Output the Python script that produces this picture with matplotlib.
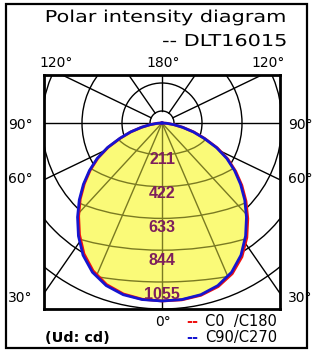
import numpy as np
import matplotlib
matplotlib.use("Agg")
import matplotlib.pyplot as plt
from matplotlib.patches import Polygon, Rectangle, Ellipse
from matplotlib import patheffects
from matplotlib.transforms import Affine2D

# gamma angles (deg from nadir) and luminous intensity (cd) per C-plane
gamma = [0, 5, 10, 15, 20, 25, 30, 35, 40, 45, 50, 55, 60, 65, 70, 75, 80, 85, 90]
c0 = [1181, 1178, 1161, 1124, 1064, 980, 879, 775, 677, 585, 498, 416, 331, 245, 176, 112, 63, 26, 0]
c180 = [1181, 1174, 1152, 1110, 1044, 957, 855, 753, 659, 569, 485, 405, 322, 238, 171, 109, 61, 26, 0]
c90 = [1181, 1176, 1157, 1117, 1054, 968, 866, 763, 667, 576, 491, 410, 326, 241, 173, 110, 62, 26, 0]
c270 = [1181, 1176, 1157, 1117, 1054, 968, 866, 763, 667, 576, 491, 410, 326, 241, 173, 110, 62, 26, 0]

ring_labels = [211, 422, 633, 844, 1055]
side_labels = ["90°", "60°", "30°"]
top_labels = ["120°", "180°", "120°"]
legend_labels = ["C0  /C180", "C90/C270"]
unit_label = "(Ud: cd)"
title = "Polar intensity diagram"
subtitle = "-- DLT16015"

W, H = 312, 350
SX = 0.193    # px per cd, horizontal (picture is wider than tall)
SY = 0.1507   # px per cd, vertical


def fx(x):
    return x / W


def fy(y):
    return 1 - y / H


class StretchX(patheffects.AbstractPathEffect):
    """Widen glyphs horizontally about display x0 (the title font is drawn wide)."""

    def __init__(self, sx, x0):
        super().__init__()
        self.sx = sx
        self.x0 = x0

    def draw_path(self, renderer, gc, tpath, affine, rgbFace=None):
        t = Affine2D(affine.get_matrix()).translate(-self.x0, 0).scale(self.sx, 1).translate(self.x0, 0)
        renderer.draw_path(gc, tpath, t, rgbFace)


def outline(angles, left, right):
    a = np.radians(angles)
    l = np.asarray(left, float)
    r = np.asarray(right, float)
    x = np.concatenate([(-l * np.sin(a))[::-1], (r * np.sin(a))[1:]])
    y = np.concatenate([(-l * np.cos(a))[::-1], (-r * np.cos(a))[1:]])
    return x, y


fig = plt.figure(figsize=(W / 100, H / 100), dpi=100)
fig.patches.append(Rectangle((fx(6), fy(348)), fx(301), 344 / H, transform=fig.transFigure,
                             fill=False, lw=1.6, ec='black'))

ax = fig.add_axes([fx(44), fy(309), fx(236), 234 / H])
ax.set_xlim(-118 / SX, 118 / SX)
ax.set_ylim(-186 / SY, 48 / SY)
ax.set_xticks([])
ax.set_yticks([])
for s in ax.spines.values():
    s.set_linewidth(2.0)
    s.set_zorder(10)

# fixed background grid: round circles and 30 deg rays (sizes in px)
bg_rings_px = [12, 40, 80, 120, 152, 186]
for rp in bg_rings_px:
    ax.add_patch(Ellipse((0, 0), 2 * rp / SX, 2 * rp / SY, fill=False, ec='black', lw=1.0, zorder=2))
for t in np.radians(np.arange(0, 360, 30)):
    dx, dy = 1.2 * np.sin(t), -np.cos(t)
    n = np.hypot(dx, dy)
    r0, r1 = 12 / n, 400 / n
    ax.plot([r0 * dx / SX, r1 * dx / SX], [r0 * dy / SY, r1 * dy / SY],
            color='black', lw=1.0, zorder=2)

bx, by = outline(gamma, c270, c90)
fill = Polygon(np.column_stack([bx, by]), closed=True, fc='#FAFA78', ec='none', zorder=3)
ax.add_patch(fill)

# intensity mesh inside the light distribution (rings every 211 cd)
MESH = 1.6
for v in ring_labels:
    e = Ellipse((0, 0), 2 * MESH * v * SY / SX, 2 * v, fill=False, ec='#7A7A22', lw=1.0, zorder=4)
    ax.add_patch(e)
    e.set_clip_path(fill)
for p in np.radians([-30, -15, 0, 15, 30]):
    ln, = ax.plot([0, 3000 * MESH * np.sin(p) * SY / SX], [0, -3000 * np.cos(p)],
                  color='#7A7A22', lw=1.0, zorder=4)
    ln.set_clip_path(fill)

rx, ry = outline(gamma, c180, c0)
ax.plot(rx, ry, color='#EE1111', lw=2.0, zorder=5)
ax.plot(bx, by, color='#1515D0', lw=2.0, zorder=6)

for v in ring_labels:
    ax.text(0, -(v * 1.06 + 20), str(v), ha='center', va='center', color='#7D1F5C',
            fontsize=11.5, fontweight='bold', family='Liberation Sans', zorder=7)

# texts around the diagram
fig.text(fx(287), fy(22), title, ha='right', va='baseline', fontsize=11.8,
         path_effects=[StretchX(1.27, 287)])
fig.text(fx(287), fy(46), subtitle, ha='right', va='baseline', fontsize=11.8,
         path_effects=[StretchX(1.27, 287)])
fig.text(fx(39), fy(67), top_labels[0], ha='left', va='baseline', fontsize=10)
fig.text(fx(163), fy(67), top_labels[1], ha='center', va='baseline', fontsize=10)
fig.text(fx(285), fy(67), top_labels[2], ha='right', va='baseline', fontsize=10)
for lab, yb in zip(side_labels, [129, 183, 302]):
    fig.text(fx(8), fy(yb), lab, ha='left', va='baseline', fontsize=10)
    fig.text(fx(288), fy(yb), lab, ha='left', va='baseline', fontsize=10)
fig.text(fx(163), fy(326), "0°", ha='center', va='baseline', fontsize=10)

fig.text(fx(186), fy(326), "--", color='#EE1111', ha='left', va='baseline', fontsize=10.5, fontweight='bold')
fig.text(fx(205), fy(326), legend_labels[0], ha='left', va='baseline', fontsize=10.5)
fig.text(fx(186), fy(342), "--", color='#1515D0', ha='left', va='baseline', fontsize=10.5, fontweight='bold')
fig.text(fx(205), fy(342), legend_labels[1], ha='left', va='baseline', fontsize=10.5)
fig.text(fx(45), fy(342), unit_label, ha='left', va='baseline', fontsize=10.4, fontweight='bold')

fig.savefig('out.png', dpi=100)
